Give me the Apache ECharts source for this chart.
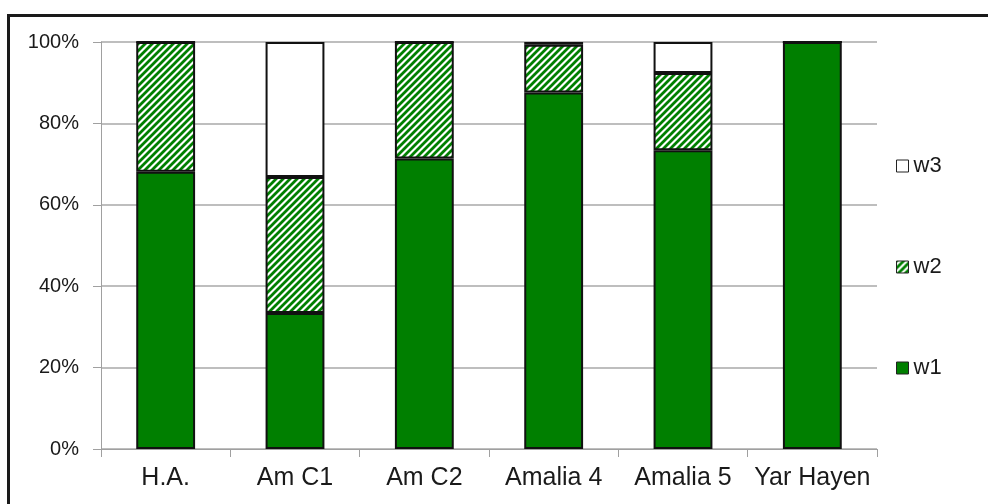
<!DOCTYPE html>
<html>
<head>
<meta charset="utf-8">
<script src="https://cdn.jsdelivr.net/npm/echarts@6/dist/echarts.min.js"></script>
<style>
html,body{margin:0;padding:0;background:#fff;}
#chart{width:988px;height:504px;}
</style>
</head>
<body>
<div id="chart"></div>
<script>
const categories = ['H.A.', 'Am C1', 'Am C2', 'Amalia 4', 'Amalia 5', 'Yar Hayen'];
const w1 = [68.1, 33.4, 71.4, 87.6, 73.4, 100];
const w2 = [31.9, 33.4, 28.6, 11.7, 19.0, 0];
const w3 = [0, 33.2, 0, 0.7, 7.6, 0];
const yTicks = [0, 20, 40, 60, 80, 100];

const GREEN = '#007f00';
function hatch() {
  const s = 7;
  const c = document.createElement('canvas');
  c.width = s; c.height = s;
  const g = c.getContext('2d');
  g.fillStyle = '#fff';
  g.fillRect(0, 0, s, s);
  g.strokeStyle = GREEN;
  g.lineWidth = 2.8;
  g.beginPath();
  g.moveTo(-2, 2); g.lineTo(2, -2);
  g.moveTo(0, s); g.lineTo(s, 0);
  g.moveTo(s - 2, s + 2); g.lineTo(s + 2, s - 2);
  g.stroke();
  return { image: c, repeat: 'repeat' };
}

const chart = echarts.init(document.getElementById('chart'), null, { renderer: 'canvas' });
const border = { borderColor: '#111', borderWidth: 2 };
chart.setOption({
  animation: false,
  backgroundColor: '#fff',
  graphic: [{
    type: 'rect',
    shape: { x: 8.5, y: 15.5, width: 1000, height: 600 },
    style: { fill: 'none', stroke: '#1a1a1a', lineWidth: 3 },
    z: 100
  }],
  grid: { left: 101, right: 111, top: 42, bottom: 55 },
  legend: {
    orient: 'vertical',
    left: 896,
    top: 155,
    padding: 0,
    itemWidth: 12,
    itemHeight: 12,
    itemGap: 79,
    icon: 'rect',
    data: ['w3', 'w2', 'w1'],
    itemStyle: { borderColor: '#222', borderWidth: 1 },
    textStyle: { fontFamily: 'Liberation Sans, Arial, sans-serif', fontSize: 22, lineHeight: 22, color: '#1a1a1a' }
  },
  xAxis: {
    type: 'category',
    data: categories,
    axisLine: { lineStyle: { color: '#a0a0a0', width: 1 } },
    axisTick: { show: true, length: 8, lineStyle: { color: '#a0a0a0' } },
    axisLabel: { interval: 0, fontFamily: 'Liberation Sans, Arial, sans-serif', fontSize: 25, color: '#1a1a1a', margin: 17 }
  },
  yAxis: {
    type: 'value',
    min: yTicks[0],
    max: yTicks[yTicks.length - 1],
    interval: yTicks[1] - yTicks[0],
    axisLine: { show: true, lineStyle: { color: '#a0a0a0', width: 1 } },
    axisTick: { show: true, length: 8, lineStyle: { color: '#a0a0a0' } },
    splitLine: { show: true, lineStyle: { color: '#a8a8a8', width: 1.5 } },
    axisLabel: { formatter: '{value}%', fontFamily: 'Liberation Sans, Arial, sans-serif', fontSize: 20, color: '#1a1a1a', margin: 22 }
  },
  series: [
    { name: 'w1', type: 'bar', stack: 'a', data: w1, barWidth: '45.5%', itemStyle: Object.assign({ color: GREEN }, border) },
    { name: 'w2', type: 'bar', stack: 'a', data: w2, itemStyle: Object.assign({ color: hatch() }, border) },
    { name: 'w3', type: 'bar', stack: 'a', data: w3, itemStyle: Object.assign({ color: '#ffffff' }, border) }
  ]
});
</script>
</body>
</html>
